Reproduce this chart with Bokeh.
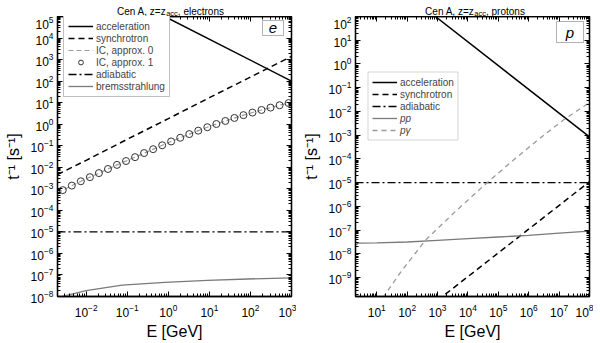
from bokeh.plotting import figure
from bokeh.models import (FixedTicker, LogAxis, Legend, LegendItem, Label, BoxAnnotation,
                          CustomJSTickFormatter)
from bokeh.layouts import row, column
from bokeh.core.properties import value
from bokeh.embed import file_html
from bokeh.resources import INLINE

FONT = "Liberation Sans"

# ---------------- data: electrons ----------------
el_x_range = (2e-3, 1e3)
el_y_range = (1e-8, 1e5)
el_acc_E = [0.82, 1000]
el_acc_t = [1.0e5, 100]
el_syn_E = [0.002, 0.01, 0.1, 1, 10, 100, 1000]
el_syn_t = [0.0046, 0.021, 0.20, 1.8, 17, 155, 1410]
el_ic1_E = [0.00269, 0.00447, 0.00741, 0.0123, 0.0204, 0.0339, 0.0562, 0.0933, 0.155,
            0.257, 0.427, 0.708, 1.17, 1.95, 3.24, 5.37, 8.91, 14.8, 24.5, 40.7, 67.6,
            112, 186, 309, 513, 851]
el_ic1_t = [8.7e-4, 1.41e-3, 2.24e-3, 3.47e-3, 5.37e-3, 8.32e-3, 1.29e-2, 1.95e-2, 2.95e-2,
            4.57e-2, 6.92e-2, 0.105, 0.158, 0.234, 0.347, 0.501, 0.724, 1.02, 1.41, 1.95,
            2.63, 3.47, 4.57, 5.89, 7.59, 9.55]
el_ic0_E = [0.002, 0.00269, 0.00741, 0.0204, 0.0562, 0.155, 0.427, 1.17, 3.24, 8.91,
            24.5, 67.6, 186, 513, 1000]
el_ic0_t = [6.5e-4, 8.7e-4, 2.24e-3, 5.37e-3, 1.29e-2, 2.95e-2, 6.92e-2, 0.158, 0.347,
            0.724, 1.41, 2.63, 4.57, 7.59, 10.5]
el_adi_E = [0.002, 1000]
el_adi_t = [1e-5, 1e-5]
el_brem_E = [0.002, 0.003, 0.01, 0.075, 0.82, 9, 85, 1000]
el_brem_t = [8.9e-9, 1.07e-8, 1.86e-8, 3.4e-8, 4.5e-8, 5.6e-8, 6.5e-8, 7.4e-8]

# ---------------- data: protons ----------------
pr_x_range = (2, 1e8)
pr_y_range = (1.6e-10, 1e2)
pr_acc_E = [850, 1e8]
pr_acc_t = [100, 8.5e-4]
pr_syn_E = [1e3, 1e8]
pr_syn_t = [1.1e-10, 1.1e-5]
pr_adi_E = [2, 1e8]
pr_adi_t = [1e-5, 1e-5]
pr_pp_E = [2, 2.5, 10, 100, 1e3, 1e4, 1e5, 1e6, 1e7, 1e8]
pr_pp_t = [2.4e-8, 2.82e-8, 2.88e-8, 3.16e-8, 3.72e-8, 4.37e-8, 5.13e-8, 6.03e-8, 7.41e-8, 9.12e-8]
pr_pg_E = [15.8, 63.1, 398, 3980, 42700, 3.16e5, 2.0e6, 1.41e7, 1e8]
pr_pg_t = [1.41e-10, 1.78e-9, 3.72e-8, 6.31e-7, 1e-5, 8.91e-5, 6.31e-4, 4.47e-3, 2.4e-2]

el_x_decades = list(range(-3, 4))
el_y_decades = list(range(-8, 6))
pr_x_decades = list(range(0, 9))
pr_y_decades = list(range(-10, 3))

el_title_tail = ", electrons"
pr_title_tail = ", protons"

# Arial / Liberation Sans advance widths (per 1000 em)
W = {'C': 722, 'e': 556, 'n': 556, ' ': 278, 'A': 667, ',': 278, 'z': 500, '=': 584,
     'l': 222, 'c': 500, 't': 278, 'r': 333, 'o': 556, 's': 500, 'p': 556, 'a': 556}

TITLE_H = 16
FIG_H = 327
MB_TOP = 0
MB_BOT = 47
FH = FIG_H - MB_TOP - MB_BOT  # frame height (280)


def tw(s, size):
    return sum(W.get(ch, 556) for ch in s) * size / 1000.0


def ticker(decades):
    major = [10.0 ** k for k in decades]
    minor = [m * 10.0 ** k for k in decades for m in range(2, 10)]
    return FixedTicker(ticks=major, minor_ticks=minor)


def style_axis(ax, show_labels=True):
    ax.axis_line_width = 1.3
    ax.axis_line_color = "black"
    ax.major_tick_in = 5
    ax.major_tick_out = 0
    ax.minor_tick_in = 3
    ax.minor_tick_out = 0
    ax.major_tick_line_color = "black"
    ax.minor_tick_line_color = "black"
    ax.major_label_text_font = FONT
    ax.major_label_text_color = "black"
    ax.axis_label_text_font = FONT
    ax.axis_label_text_font_style = "normal"
    ax.axis_label_text_color = "black"
    if show_labels:
        ax.major_label_text_font_size = "12px"
        ax.axis_label_text_font_size = "16px"
    else:
        ax.formatter = CustomJSTickFormatter(code="return ''")
        ax.major_label_standoff = 0


def make_fig(width, mbl, mbr, xr, yr, xdec, ydec):
    p = figure(width=width, height=FIG_H, x_axis_type="log", y_axis_type="log",
               x_range=xr, y_range=yr, output_backend="svg", toolbar_location=None,
               min_border_left=mbl, min_border_right=mbr, min_border_top=MB_TOP,
               min_border_bottom=MB_BOT)
    p.title = None
    p.grid.visible = False
    p.outline_line_color = "black"
    p.outline_line_width = 1.3
    p.background_fill_color = "white"
    p.border_fill_color = "white"
    p.xaxis.ticker = ticker(xdec)
    p.yaxis.ticker = ticker(ydec)
    p.xaxis.axis_label = "E [GeV]"
    p.yaxis.axis_label = "t\u207b\u00b9 [s\u207b\u00b9]"
    style_axis(p.xaxis[0])
    style_axis(p.yaxis[0])
    p.xaxis.major_label_standoff = 7
    p.xaxis.axis_label_standoff = 3
    p.yaxis.major_label_standoff = 4
    p.yaxis.axis_label_standoff = 6
    ra = LogAxis(ticker=ticker(ydec))
    style_axis(ra, False)
    p.add_layout(ra, "right")
    ta = LogAxis(ticker=ticker(xdec))
    style_axis(ta, False)
    p.add_layout(ta, "above")
    return p


def make_title(width, center, tail):
    t = figure(width=width, height=TITLE_H, x_range=(0, width), y_range=(0, TITLE_H),
               output_backend="svg", toolbar_location=None, min_border=0,
               x_axis_location=None, y_axis_location=None)
    t.title = None
    t.grid.visible = False
    t.outline_line_color = None
    t.border_fill_color = "white"
    main1 = "Cen A, z=z"
    sub = "acc"
    fs, ss = 10, 7.5
    total = tw(main1, fs) + tw(sub, ss) + tw(tail, fs)
    x0 = center - total / 2
    x1 = x0 + tw(main1, fs)
    x2 = x1 + tw(sub, ss)
    t.text(x=[x0, x2], y=[5.5, 5.5], text=[main1, tail], text_font=value(FONT),
           text_font_size=f"{fs}px", text_baseline="alphabetic", text_color="black")
    t.text(x=[x1], y=[3.5], text=[sub], text_font=value(FONT),
           text_font_size=f"{ss}px", text_baseline="alphabetic", text_color="black")
    return t


def add_letter_box(p, l, r, b, t, letter):
    p.add_layout(BoxAnnotation(left=l, right=r, bottom=b, top=t, left_units="screen",
                               right_units="screen", bottom_units="screen", top_units="screen",
                               fill_color="white", fill_alpha=1, line_color="black",
                               line_width=1))
    p.add_layout(Label(x=(l + r) / 2, y=(b + t) / 2, x_units="screen", y_units="screen",
                       text=letter, text_font=FONT, text_font_style="italic",
                       text_font_size="15px", text_align="center", text_baseline="middle",
                       text_color="black"))


GRAY = "#7a7a7a"
LGRAY = "#9a9a9a"

# ---------------- electrons panel ----------------
W1, W2 = 296, 297
p1 = make_fig(W1, 57, 5, el_x_range, el_y_range, el_x_decades, el_y_decades)
r_acc = p1.line(el_acc_E, el_acc_t, line_color="black", line_width=1.5)
r_syn = p1.line(el_syn_E, el_syn_t, line_color="black", line_width=1.5, line_dash="6 4")
r_ic0 = p1.line(el_ic0_E, el_ic0_t, line_color=LGRAY, line_width=1.2, line_dash="5 3")
r_ic1 = p1.scatter(el_ic1_E, el_ic1_t, marker="circle", size=7, fill_color=None,
                   line_color="#333333", line_width=1)
r_adi = p1.line(el_adi_E, el_adi_t, line_color="black", line_width=1.3, line_dash="8 3 2 3")
r_brem = p1.line(el_brem_E, el_brem_t, line_color=GRAY, line_width=1.3)

leg1 = Legend(items=[LegendItem(label="acceleration", renderers=[r_acc]),
                     LegendItem(label="synchrotron", renderers=[r_syn]),
                     LegendItem(label="IC, approx. 0", renderers=[r_ic0]),
                     LegendItem(label="IC, approx. 1", renderers=[r_ic1]),
                     LegendItem(label="adiabatic", renderers=[r_adi]),
                     LegendItem(label="bremsstrahlung", renderers=[r_brem])],
              location=(6, FH - 81), padding=4, spacing=0, glyph_width=25, glyph_height=12,
              label_height=12, label_standoff=3, label_text_font=FONT,
              label_text_font_size="10px", border_line_color="#808080", border_line_width=1,
              background_fill_color="white", background_fill_alpha=1, margin=0)
p1.add_layout(leg1)
add_letter_box(p1, 205, 226, FH - 19, FH - 4, "e")

# ---------------- protons panel ----------------
p2 = make_fig(W2, 59, 4, pr_x_range, pr_y_range, pr_x_decades, pr_y_decades)
q_acc = p2.line(pr_acc_E, pr_acc_t, line_color="black", line_width=1.5)
q_syn = p2.line(pr_syn_E, pr_syn_t, line_color="black", line_width=1.5, line_dash="6 4")
q_adi = p2.line(pr_adi_E, pr_adi_t, line_color="black", line_width=1.3, line_dash="8 3 2 3")
q_pp = p2.line(pr_pp_E, pr_pp_t, line_color=GRAY, line_width=1.3)
q_pg = p2.line(pr_pg_E, pr_pg_t, line_color=LGRAY, line_width=1.3, line_dash="5 4")

leg2a = Legend(items=[LegendItem(label="acceleration", renderers=[q_acc]),
                      LegendItem(label="synchrotron", renderers=[q_syn]),
                      LegendItem(label="adiabatic", renderers=[q_adi])],
               location=(17, FH - 60 - 36), padding=0, spacing=0, glyph_width=25,
               glyph_height=12, label_height=12, label_standoff=3, label_text_font=FONT,
               label_text_font_size="10px", border_line_alpha=0, background_fill_alpha=0,
               margin=0)
leg2b = Legend(items=[LegendItem(label="pp", renderers=[q_pp]),
                      LegendItem(label="p\u03b3", renderers=[q_pg])],
               location=(17, FH - 96 - 24), padding=0, spacing=0, glyph_width=25,
               glyph_height=12, label_height=12, label_standoff=3, label_text_font=FONT,
               label_text_font_size="10px", label_text_font_style="italic",
               border_line_alpha=0, background_fill_alpha=0, margin=0)
p2.add_layout(leg2a)
p2.add_layout(leg2b)
p2.add_layout(BoxAnnotation(left=12.5, right=102.5, bottom=FH - 123.5, top=FH - 55.5,
                            left_units="screen", right_units="screen", bottom_units="screen",
                            top_units="screen", fill_alpha=0, line_color="#707070",
                            line_width=1, level="overlay"))
add_letter_box(p2, 201, 228, FH - 26, FH - 5, "p")

t1 = make_title(W1, 170, el_title_tail)
t2 = make_title(W2, 474.5 - W1, pr_title_tail)

layout = column(row(t1, t2, spacing=0), row(p1, p2, spacing=0), spacing=0)
open("out.html", "w").write(file_html(layout, INLINE))
